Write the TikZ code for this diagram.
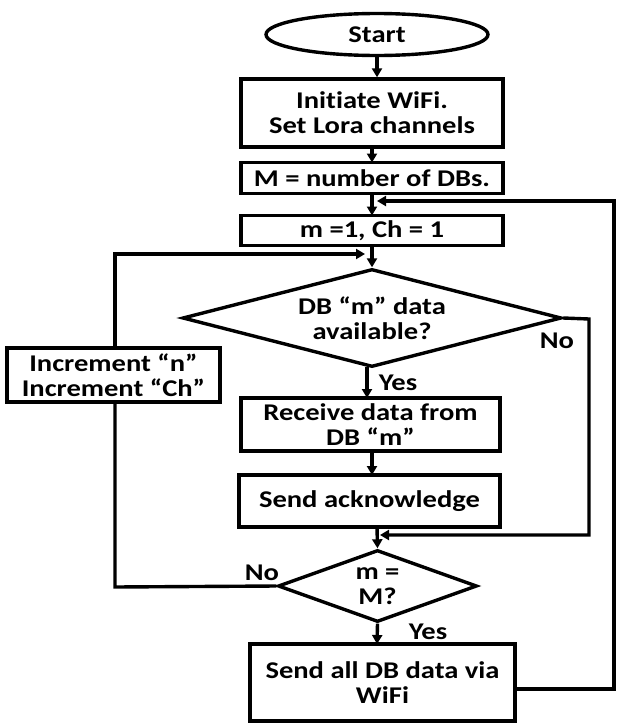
\documentclass[tikz,border=0pt]{standalone}
\usepackage{fontspec}
\setmainfont{Carlito}[FakeStretch=1.19, Ligatures=NoCommon]
\usetikzlibrary{shapes.geometric,arrows.meta}
\begin{document}
\begin{tikzpicture}[x=1pt,y=-1pt,
  line width=3.4pt,
  every node/.style={font=\fontsize{24}{25}\selectfont\bfseries, inner sep=0pt, align=center},
  box/.style={draw, rectangle},
  dia/.style={draw, diamond},
  term/.style={draw, ellipse},
  lbl/.style={},
  arr/.style={-{Triangle[length=9pt,width=10pt]}}
]
\useasboundingbox (0,0) rectangle (617,723);
\node[term, minimum width=222pt, minimum height=42pt] (start) at (377,34.5) {Start};
\node[box, minimum width=262pt, minimum height=68pt] (b1) at (372,113) {Initiate WiFi.\\Set Lora channels};
\node[box, minimum width=262pt, minimum height=31pt] (b2) at (372,178) {M = number of DBs.};
\node[box, minimum width=262pt, minimum height=30pt] (b3) at (372,230.5) {m =1, Ch = 1};
\node[dia, minimum width=379pt, minimum height=98pt] (d1) at (372,318) {};
\node at (d1.center) {DB “m” data\\available?};
\node[box, minimum width=259pt, minimum height=53pt] (b4) at (370.5,424.5) {Receive data from\\DB “m”};
\node[box, minimum width=261pt, minimum height=52pt] (b5) at (369.5,501) {Send acknowledge};
\node[dia, minimum width=199pt, minimum height=72pt] (d2) at (377.5,586) {};
\node at (d2.center) {m =\\M?};
\node[box, minimum width=265pt, minimum height=77pt] (b6) at (382.5,682.5) {Send all DB data via\\WiFi};
\node[box, minimum width=213pt, minimum height=54pt] (inc) at (113.5,375) {Increment “n”\\Increment “Ch”};
\node[lbl] (no1) at (557,341) {No};
\node[lbl] (yes1) at (398,383) {Yes};
\node[lbl] (no2) at (262,573) {No};
\node[lbl] (yes2) at (428,632) {Yes};
\coordinate (m1) at (372,201);
\coordinate (m2) at (370,254);
\coordinate (m3) at (377,535);
\coordinate (rtop) at (614,201);
\coordinate (rbot) at (614,689);
\coordinate (nr) at (589,319);
\coordinate (nrb) at (589,535);
\coordinate (lt) at (115,254);
\coordinate (lb) at (115,587);
% main column
\draw[arr] (start.south) -- (start.south |- b1.north);
\draw[arr] (372,147) -- (372,162.5);
\draw[arr] (372,193.5) -- (372,215.5);
\draw[arr] (b3.south) -- (d1.north);
\draw[arr] (367,367) -- (367,398);
\draw[arr] (372,451) -- (372,475);
\draw[arr] (377,527) -- (d2.north);
\draw[arr] (d2.south) -- (377,644);
% loops
\draw[arr] (b6.east |- rbot) -- (rbot) -- (rtop) -- ([xshift=5pt]m1);
\draw[arr] (d1.east) -- (nr) -- (nrb) -- ([xshift=3pt]m3);
\draw (d2.west) -- (lb) -- (lb |- inc.south);
\draw[arr] (lt |- inc.north) -- (lt) -- ([xshift=-5pt]m2);
\end{tikzpicture}
\end{document}
